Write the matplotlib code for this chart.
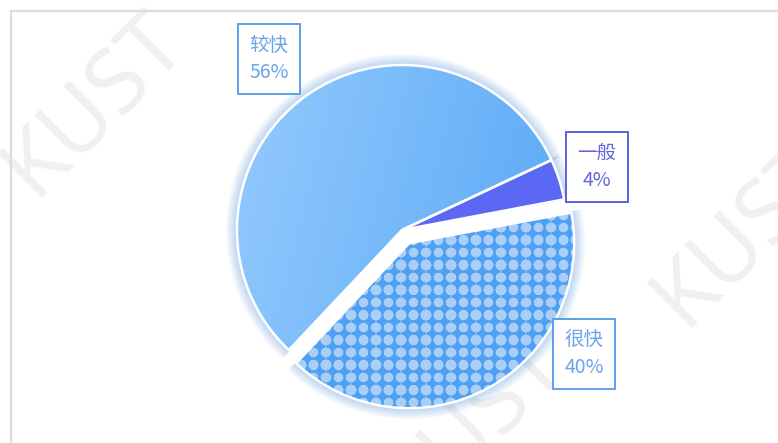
import matplotlib
matplotlib.use('Agg')
import matplotlib.pyplot as plt
from matplotlib.patches import Wedge
from matplotlib.colors import LinearSegmentedColormap
import numpy as np

plt.rcParams['font.family'] = ['Noto Sans CJK SC', 'DejaVu Sans']

# 数据
labels = ['一般', '较快', '很快']
values = [4, 56, 40]
explode = [0, 0, 15]   # 像素偏移
edge_colors = ['#5b5fe6', '#5ba0ea', '#5ba0ea']
text_colors = ['#6464e0', '#6aa6e6', '#6aa6e6']
# 标签框中心位置（像素坐标）
label_pos = [(597, 167), (269, 59), (584, 354)]

W, H = 778, 443
fig = plt.figure(figsize=(W / 100, H / 100), dpi=100)
ax = fig.add_axes([0, 0, 1, 1])

# 背景边框与水印
ax.plot([11, 11, W], [0, H - 11, H - 11], color='#dcdcdc', lw=1.6, zorder=1)
for (x, y) in [(95, H - 105), (745, H - 235), (475, H - 425)]:
    ax.text(x, y, 'KUST', fontsize=64, color='#f0f0f0', rotation=45,
            ha='center', va='center', family='Noto Sans', zorder=0)

cx, cy, R = 402, H - 230, 165
wedges, _ = ax.pie(values, center=(cx, cy), radius=R, startangle=10.7,
                   counterclock=True, explode=explode, frame=True,
                   wedgeprops=dict(edgecolor='white', linewidth=1.8, facecolor='none'))
ax.set_xlim(0, W)
ax.set_ylim(0, H)
ax.set_aspect('equal')
ax.axis('off')

# 阴影（蓝色光晕）
for w in wedges:
    c = w.center
    for k in range(1, 11):
        g = Wedge(c, R + k * 1.1, w.theta1 - 0.4, w.theta2 + 0.4, width=R + k * 1.1 - 3,
                  facecolor='#4a8fe0', edgecolor='none', alpha=0.04, zorder=1.5)
        ax.add_patch(g)

gradients = [
    ['#4e6ef7', '#7260f0'],
    ['#94cafd', '#56a7f6'],
]
for i, w in enumerate(wedges):
    w.set_zorder(4)
    c = w.center
    ext = [c[0] - R, c[0] + R, c[1] - R, c[1] + R]
    if i < 2:
        cmap = LinearSegmentedColormap.from_list('g', gradients[i])
        xx, yy = np.meshgrid(np.linspace(0, 1, 200), np.linspace(0, 1, 200))
        if i == 1:
            grad = 0.8 * xx + 0.2 * yy
        else:
            grad = yy
        im = ax.imshow(grad, extent=ext, origin='upper', cmap=cmap,
                       zorder=3, interpolation='bilinear')
        im.set_clip_path(w)
    else:
        bg = Wedge(c, R, w.theta1, w.theta2, facecolor='#a9cff7',
                   edgecolor='none', zorder=2.5)
        ax.add_patch(bg)
        step = 12.5
        gx = np.arange(c[0] - R, c[0] + R + step, step)
        gy = np.arange(c[1] - R, c[1] + R + step, step)
        X, Y = np.meshgrid(gx, gy)
        s2 = ax.scatter(X.ravel(), Y.ravel(), marker='D', s=30,
                        color='#4f9ff2', linewidths=0, zorder=2.8)
        s3 = ax.scatter(X.ravel(), Y.ravel(), marker='+', s=85,
                        color='#4f9ff2', linewidths=2.0, zorder=2.8)
        for s in (s2, s3):
            s.set_clip_path(w)

# 标签
for i, lab in enumerate(labels):
    x, y = label_pos[i]
    ax.text(x, H - y, f'{lab}\n{values[i]}%', ha='center', va='center',
            fontsize=14, color=text_colors[i], linespacing=1.35, zorder=6,
            bbox=dict(boxstyle='square,pad=0.6', facecolor='white',
                      edgecolor=edge_colors[i], linewidth=1.4))

fig.savefig('out.png', dpi=100)
